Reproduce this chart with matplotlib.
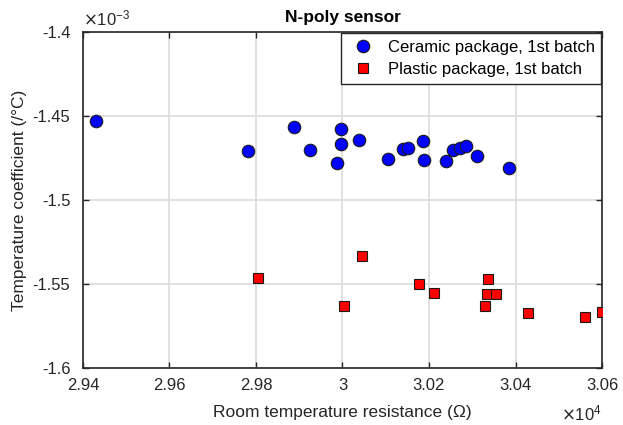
import matplotlib
matplotlib.use("Agg")
import matplotlib.pyplot as plt
from matplotlib.ticker import FuncFormatter

plt.rcParams['font.family'] = ['Liberation Sans', 'DejaVu Sans']

# ceramic package, 1st batch (resistance in ohm, tempco in 1/degC)
cer_r = [29429, 29782, 29888, 29925, 29997, 29997, 29987, 30038, 30105, 30141,
         30151, 30185, 30189, 30239, 30255, 30271, 30286, 30310, 30386]
cer_tc = [-1.4532e-3, -1.4709e-3, -1.4564e-3, -1.4703e-3, -1.4578e-3, -1.4667e-3,
          -1.4780e-3, -1.4645e-3, -1.4755e-3, -1.4697e-3, -1.4691e-3, -1.4651e-3,
          -1.4764e-3, -1.4770e-3, -1.4705e-3, -1.4693e-3, -1.4679e-3, -1.4737e-3,
          -1.4810e-3]

# plastic package, 1st batch
pla_r = [29805, 30003, 30044, 30178, 30211, 30337, 30334, 30355, 30330, 30430,
         30561, 30599]
pla_tc = [-1.5464e-3, -1.5629e-3, -1.5333e-3, -1.5498e-3, -1.5554e-3, -1.5470e-3,
          -1.5560e-3, -1.5560e-3, -1.5631e-3, -1.5675e-3, -1.5697e-3, -1.5669e-3]

xticks = [29400, 29600, 29800, 30000, 30200, 30400, 30600]
yticks = [-1.6e-3, -1.55e-3, -1.5e-3, -1.45e-3, -1.4e-3]

fig = plt.figure(figsize=(6.23, 4.25), dpi=100)
ax = fig.add_axes([0.1332, 0.1341, 0.8331, 0.7906])

ax.plot(cer_r, cer_tc, 'o', ms=9, mfc='#0000ff', mec='#1a1a1a', mew=0.8,
        label='Ceramic package, 1st batch', zorder=3)
ax.plot(pla_r, pla_tc, 's', ms=7.5, mfc='#ff0000', mec='#1a1a1a', mew=0.8,
        label='Plastic package, 1st batch', zorder=3)

ax.set_xlim(29400, 30600)
ax.set_ylim(-1.6e-3, -1.4e-3)
ax.set_xticks(xticks)
ax.set_yticks(yticks)
ax.xaxis.set_major_formatter(FuncFormatter(lambda v, p: ('%g' % round(v / 1e4, 4))))
ax.yaxis.set_major_formatter(FuncFormatter(lambda v, p: ('%g' % round(v / 1e-3, 4))))

ax.grid(True, color='#dcdcdc', linewidth=1.2)
ax.set_axisbelow(True)
ax.tick_params(direction='in', length=4, width=1, labelsize=12, colors='#262626',
               top=True, right=True)
ax.tick_params(axis='x', pad=7)
ax.tick_params(axis='y', pad=9)
for s in ax.spines.values():
    s.set_color('#262626')
    s.set_linewidth(1.2)

ax.set_xlabel('Room temperature resistance (\u03a9)', fontsize=12.5, color='#262626', labelpad=9)
ax.set_ylabel('Temperature coefficient (/\u00b0C)', fontsize=12.5, color='#262626', labelpad=4)
ax.set_title('N-poly sensor', fontsize=12.5, fontweight='bold', pad=7)

ax.text(0.0, 1.01, r'$\times\mathregular{10^{-3}}$', transform=ax.transAxes,
        fontsize=12, color='#262626', ha='left', va='bottom')
ax.text(1.0, -0.165, r'$\times\mathregular{10^{4}}$', transform=ax.transAxes,
        fontsize=12, color='#262626', ha='right', va='bottom')

leg = ax.legend(loc='upper right', fontsize=12, fancybox=False, framealpha=1,
                edgecolor='#262626', borderaxespad=0.05, handletextpad=0.6,
                borderpad=0.4, labelspacing=0.45, handlelength=1.8)
leg.get_frame().set_linewidth(1.0)

fig.savefig('out.png', dpi=100)
